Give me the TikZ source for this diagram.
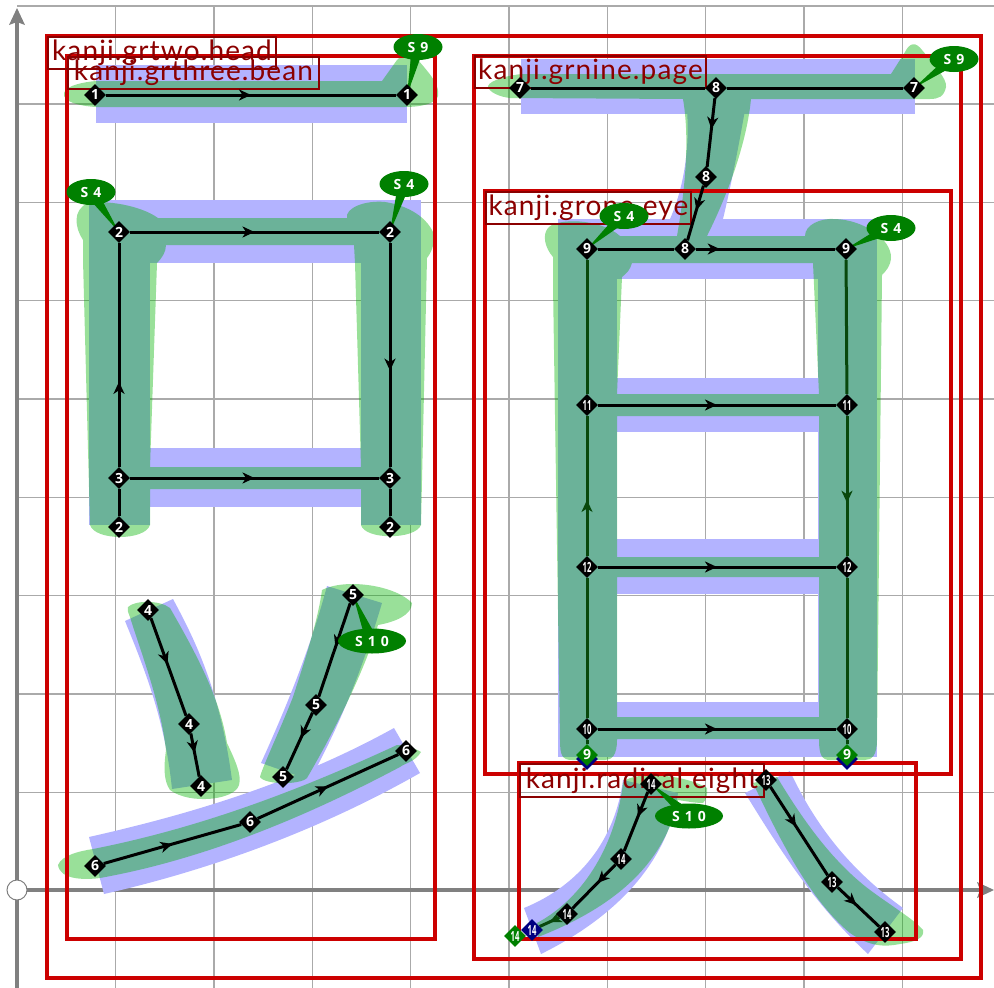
\documentclass[tikz,border=0pt]{standalone}
\usepackage{fontspec}
\usepackage{graphicx}
\setmainfont{Lato}
\newfontfamily\numfont{Open Sans}
\newfontfamily\ovalfont{Open Sans}[LetterSpace=10]
\newfontfamily\labfont{Lato}[LetterSpace=4]
\usetikzlibrary{shapes.geometric,arrows.meta,decorations.markings,calc}
\definecolor{blueS}{RGB}{179,179,255}
\definecolor{greenS}{RGB}{0,178,0}
\definecolor{frameR}{RGB}{204,0,0}
\definecolor{labR}{RGB}{139,0,0}
\definecolor{ovalG}{RGB}{0,128,0}
\definecolor{darkG}{RGB}{8,72,12}
\definecolor{navyD}{RGB}{0,0,128}
\definecolor{gridG}{RGB}{170,170,170}
\definecolor{axisG}{RGB}{128,128,128}
\pgfdeclarelayer{bg}
\pgfdeclarelayer{mid}
\pgfsetlayers{bg,mid,main}
\tikzset{
  dnode/.style={diamond,shape aspect=1,fill=black,text=white,minimum size=22pt,inner sep=0pt,font=\numfont\bfseries\fontsize{14}{14}\selectfont},
  dgreen/.style={dnode,fill=ovalG},
  dblue/.style={dnode,fill=navyD},
  soval/.style={ellipse,fill=ovalG,text=white,inner sep=0pt,minimum height=26pt,font=\ovalfont\bfseries\fontsize{14}{14}\selectfont},
  conn/.style={draw=black,line width=3pt},
  dconn/.style={draw=darkG,line width=3pt},
  tip/.style={postaction={decorate},decoration={markings,mark=at position #1 with {\arrow{Stealth[length=12pt,width=11pt,inset=3.5pt]}}}},
  framebox/.style={draw=frameR,line width=3.6pt},
  lab/.style={draw=labR,line width=2.2pt,text=labR,inner sep=0pt,font=\labfont\fontsize{28}{28}\selectfont},
  blobB/.style={fill=blueS},
  blobG/.style={fill=greenS,fill opacity=.4},
  gridline/.style={draw=gridG,line width=1.3pt},
  axis/.style={draw=axisG,line width=4.5pt}
}
\newcommand{\nn}[1]{\scalebox{.55}[1]{#1}}
\newcommand{\tailto}[2]{\fill[ovalG] ($(#1.center)!6pt!90:(#2.center)$) -- (#2.center) -- ($(#1.center)!6pt!-90:(#2.center)$) -- cycle;}
\begin{document}
\begin{tikzpicture}[x=1pt,y=-1pt]
\useasboundingbox (0,0) rectangle (994,988);
% nodes
\node[dnode] (a1) at (95,95) {1};
\node[dnode] (a2) at (407,95) {1};
\node[dnode] (b1) at (119,232) {2};
\node[dnode] (b2) at (390,232) {2};
\node[dnode] (b3) at (119,527) {2};
\node[dnode] (b4) at (390,527) {2};
\node[dnode] (c1) at (119,478) {3};
\node[dnode] (c2) at (390,478) {3};
\node[dnode] (d1) at (148,610) {4};
\node[dnode] (d2) at (189,724) {4};
\node[dnode] (d3) at (201,786) {4};
\node[dnode] (e1) at (353,595) {5};
\node[dnode] (e2) at (316,705) {5};
\node[dnode] (e3) at (283,777) {5};
\node[dnode] (f1) at (95,866) {6};
\node[dnode] (f2) at (250,822) {6};
\node[dnode] (f3) at (406,751) {6};
\node[dnode] (g1) at (520,88) {7};
\node[dnode] (g2) at (914,88) {7};
\node[dnode] (h1) at (716,88) {8};
\node[dnode] (h2) at (706,177) {8};
\node[dnode] (h3) at (685,249) {8};
\node[dnode] (i1) at (587,249) {9};
\node[dnode] (i2) at (846,249) {9};
\node[dblue,text opacity=0] (i3b) at (587,759) {9};
\node[dblue,text opacity=0] (i4b) at (847,759) {9};
\node[dgreen] (i3) at (587,755) {9};
\node[dgreen] (i4) at (847,755) {9};
\node[dnode] (j1) at (587,405) {\nn{11}};
\node[dnode] (j2) at (847,405) {\nn{11}};
\node[dnode] (k1) at (587,567) {\nn{12}};
\node[dnode] (k2) at (847,567) {\nn{12}};
\node[dnode] (l1) at (587,729) {\nn{10}};
\node[dnode] (l2) at (847,729) {\nn{10}};
\node[dnode] (m1) at (766,780) {\nn{13}};
\node[dnode] (m2) at (832,882) {\nn{13}};
\node[dnode] (m3) at (885,932) {\nn{13}};
\node[dnode] (n1) at (651,784) {\nn{14}};
\node[dnode] (n2) at (621,859) {\nn{14}};
\node[dnode] (n3) at (567,914) {\nn{14}};
\node[dgreen] (n5) at (515,936) {\nn{14}};
\node[dblue] (n4) at (532,930) {\nn{14}};
\node[soval,minimum width=49pt] (s1) at (418,47) {S 9};
\node[soval,minimum width=49pt] (s2) at (954,59) {S 9};
\node[soval,minimum width=49pt] (s3) at (91,192) {S 4};
\node[soval,minimum width=49pt] (s4) at (404,184) {S 4};
\node[soval,minimum width=49pt] (s5) at (624,216) {S 4};
\node[soval,minimum width=49pt] (s6) at (891,228) {S 4};
\node[soval,minimum width=68pt,minimum height=25pt] (s7) at (372,641) {S 1 0};
\node[soval,minimum width=68pt,minimum height=25pt] (s8) at (689,816) {S 1 0};
\begin{pgfonlayer}{bg}
% grid
\foreach \gx in {115.7,214,312.4,410.7,509,607.4,705.7,804,902.4}
  \draw[gridline] (\gx,6) -- (\gx,988);
\foreach \gy in {6,104,202.3,300.6,398.9,497.2,595.6,693.9,792.2}
  \draw[gridline] (17,\gy) -- (994,\gy);
\draw[axis] (17,988) -- (17,20);
\fill[axisG] (17,8) -- (25,25) -- (17,22) -- (9,25) -- cycle;
\draw[axis] (17,890) -- (985,890);
\fill[axisG] (994,890) -- (977,882) -- (980,890) -- (977,898) -- cycle;
\draw[axisG,fill=white,line width=1pt] (17,890) circle[radius=10];
% blue strokes
\fill[blobB] (96,65) rectangle (407,123);
\fill[blobB] (89,200) rectangle (421,263);
\fill[blobB] (89,200) rectangle (150,525);
\fill[blobB] (361,200) rectangle (421,525);
\fill[blobB] (150,448) rectangle (361,507);
\fill[blobB] (125,621) -- (173,599) .. controls (195,640) and (220,690) .. (232,780) -- (172,789) .. controls (165,720) and (145,670) .. cycle;
\fill[blobB] (327,586) -- (382,603) .. controls (365,660) and (345,715) .. (310,780) -- (261,763) .. controls (285,710) and (310,650) .. cycle;
\fill[blobB] (89,837) .. controls (200,812) and (300,780) .. (394,728) -- (420,773) .. controls (320,830) and (210,870) .. (104,894) -- cycle;
\fill[blobB] (521,59) rectangle (915,114);
\fill[blobB] (687,110) .. controls (690,150) and (683,190) .. (670,219) -- (723,219) .. controls (730,190) and (738,150) .. (745,110) -- cycle;
\fill[blobB] (558,219) rectangle (877,279);
\fill[blobB] (558,219) rectangle (617,757);
\fill[blobB] (818,219) rectangle (877,757);
\fill[blobB] (617,378) rectangle (818,432);
\fill[blobB] (617,539) rectangle (818,594);
\fill[blobB] (617,702) rectangle (818,757);
\fill[blobB] (623,780) -- (678,793) .. controls (670,850) and (630,910) .. (541,954) -- (524,908) .. controls (580,885) and (615,840) .. cycle;
\fill[blobB] (745,793) -- (790,771) .. controls (815,825) and (850,870) .. (903,908) -- (868,954) .. controls (815,905) and (780,850) .. cycle;
% green strokes
\fill[blobG] (96,81) -- (382,81) -- (397,60) .. controls (404,52) and (412,52) .. (418,60) .. controls (430,74) and (440,85) .. (438,96) .. controls (436,104) and (420,107) .. (405,107) -- (96,107) .. controls (80,106) and (62,102) .. (64,93) .. controls (66,85) and (85,82) .. (96,81) -- cycle;
\fill[blobG]
  (88,203) .. controls (105,200) and (140,205) .. (158,218) -- (347,218) .. controls (345,208) and (365,200) .. (385,202) .. controls (405,205) and (425,215) .. (433,232) .. controls (436,245) and (430,254) .. (427,258) -- (421,525) .. controls (415,540) and (365,540) .. (361,525) -- (361,489) -- (150,489) -- (150,525) .. controls (145,541) and (95,541) .. (90,525) -- (83,260) -- (83,240) .. controls (75,228) and (72,210) .. (88,203) -- cycle
  (157,263) -- (150,467) -- (361,467) -- (355,263) -- (354,245) -- (166,245) .. controls (166,252) and (162,258) .. (157,263) -- cycle;
\fill[blobG] (128,607) .. controls (135,600) and (160,600) .. (170,608) .. controls (200,660) and (220,700) .. (227,743) .. controls (235,760) and (242,775) .. (239,785) .. controls (235,800) and (190,805) .. (170,790) .. controls (163,780) and (164,765) .. (166,750) .. controls (160,700) and (140,650) .. (130,617) .. controls (128,612) and (127,610) .. (128,607) -- cycle;
\fill[blobG] (322,590) .. controls (345,578) and (395,585) .. (412,603) .. controls (412,615) and (395,622) .. (378,625) .. controls (365,670) and (335,730) .. (307,778) .. controls (300,785) and (265,785) .. (260,777) .. controls (262,768) and (280,730) .. (293,697) .. controls (305,660) and (318,620) .. (322,590) -- cycle;
\fill[blobG] (58,865) .. controls (62,855) and (80,851) .. (93,849) .. controls (200,828) and (300,790) .. (397,745) .. controls (405,745) and (415,748) .. (421,752) .. controls (415,762) and (405,763) .. (400,767) .. controls (300,820) and (200,860) .. (100,878) .. controls (85,880) and (60,880) .. (58,865) -- cycle;
\fill[blobG]
  (522,74) -- (891,74) -- (905,52) .. controls (910,42) and (916,42) .. (922,50) .. controls (932,62) and (948,80) .. (946,87) .. controls (944,97) and (938,99) .. (930,99) -- (751,99) .. controls (747,140) and (730,190) .. (707,236) -- (805,236) .. controls (805,225) and (820,218) .. (835,219) .. controls (865,220) and (891,240) .. (891,257) .. controls (891,266) and (885,272) .. (882,275) -- (877,740) .. controls (877,755) and (872,760) .. (865,760) -- (830,760) .. controls (822,760) and (819,755) .. (819,740) -- (819,739) -- (617,739) -- (617,740) .. controls (617,755) and (612,760) .. (605,760) -- (572,760) .. controls (562,760) and (560,755) .. (560,740) -- (553,285) -- (553,257) .. controls (545,248) and (542,235) .. (548,228) .. controls (556,218) and (600,218) .. (620,236) -- (677,236) .. controls (685,190) and (690,140) .. (683,99) -- (510,98) .. controls (500,97) and (488,92) .. (488,86) .. controls (490,80) and (510,75) .. (522,74) -- cycle
  (622,277) -- (617,394) -- (819,394) -- (813,263) -- (632,263) .. controls (630,270) and (627,273) .. (622,277) -- cycle
  (617,416) -- (617,557) -- (819,557) -- (819,416) -- cycle
  (617,577) -- (617,717) -- (819,717) -- (819,577) -- cycle;
\fill[blobG] (623,783) .. controls (628,772) and (680,772) .. (707,788) .. controls (708,795) and (706,800) .. (703,803) .. controls (695,803) and (685,801) .. (678,800) .. controls (665,860) and (620,905) .. (538,937) -- (537,923) .. controls (580,900) and (615,850) .. (623,783) -- cycle;
\fill[blobG] (753,783) -- (777,777) .. controls (800,815) and (830,860) .. (870,890) .. controls (890,905) and (915,920) .. (923,930) .. controls (925,938) and (915,942) .. (900,944) .. controls (885,947) and (870,947) .. (850,933) .. controls (810,900) and (780,840) .. (753,783) -- cycle;
% frames
\draw[framebox] (47,36) rectangle (981,978);
\draw[framebox] (67,56) rectangle (435,939);
\draw[framebox] (474,56) rectangle (961,959);
\draw[framebox] (485,191) rectangle (951,774);
\draw[framebox] (519,763) rectangle (916,939);
% labels
\node[lab,minimum width=228pt,minimum height=32pt] (t1) at (162,53) {kanji.grtwo.head};
\node[lab,minimum width=251pt,minimum height=32pt] (t2) at (193.5,73) {kanji.grthree.bean};
\node[lab,minimum width=231pt,minimum height=32pt] (t3) at (590.5,72) {kanji.grnine.page};
\node[lab,minimum width=205pt,minimum height=32pt] (t4) at (588.5,208) {kanji.grone.eye};
\node[lab,minimum width=244pt,minimum height=33pt] (t5) at (642,780.5) {kanji.radical.eight};
\end{pgfonlayer}
\begin{pgfonlayer}{mid}
\tailto{s1}{a2}
\tailto{s2}{g2}
\tailto{s3}{b1}
\tailto{s4}{b2}
\tailto{s5}{i1}
\tailto{s6}{i2}
\tailto{s7}{e1}
\tailto{s8}{n1}
\draw[conn,tip=.5] (a1) -- (a2);
\draw[conn,tip=.5] (b1) -- (b2);
\draw[conn,tip=.57] (b2) -- (c2);
\draw[conn] (c2) -- (b4);
\draw[conn] (b3) -- (c1);
\draw[conn,tip=.38] (c1) -- (b1);
\draw[conn,tip=.5] (c1) -- (c2);
\draw[conn,tip=.47] (d1) -- (d2);
\draw[conn,tip=.45] (d2) -- (d3);
\draw[conn,tip=.47] (e1) -- (e2);
\draw[conn,tip=.45] (e2) -- (e3);
\draw[conn,tip=.5] (f1) -- (f2);
\draw[conn,tip=.5] (f2) -- (f3);
\draw[conn] (g1) -- (h1);
\draw[conn] (h1) -- (g2);
\draw[conn,tip=.45] (h1) -- (h2);
\draw[conn,tip=.45] (h2) -- (h3);
\draw[conn] (i1) -- (h3);
\draw[conn,tip=.17] (h3) -- (i2);
\draw[dconn] (i2) -- (j2);
\draw[dconn,tip=.62] (j2) -- (k2);
\draw[dconn] (k2) -- (l2);
\draw[dconn] (l2) -- (i4);
\draw[dconn] (i3) -- (l1);
\draw[dconn] (l1) -- (k1);
\draw[dconn,tip=.4] (k1) -- (j1);
\draw[dconn] (j1) -- (i1);
\draw[conn,tip=.5] (j1) -- (j2);
\draw[conn,tip=.5] (k1) -- (k2);
\draw[conn,tip=.5] (l1) -- (l2);
\draw[conn,tip=.45] (m1) -- (m2);
\draw[conn,tip=.45] (m2) -- (m3);
\draw[conn,tip=.42] (n1) -- (n2);
\draw[conn,tip=.42] (n2) -- (n3);
\draw[dconn,tip=.5] (n3) -- (n4);
\end{pgfonlayer}
\end{tikzpicture}
\end{document}
